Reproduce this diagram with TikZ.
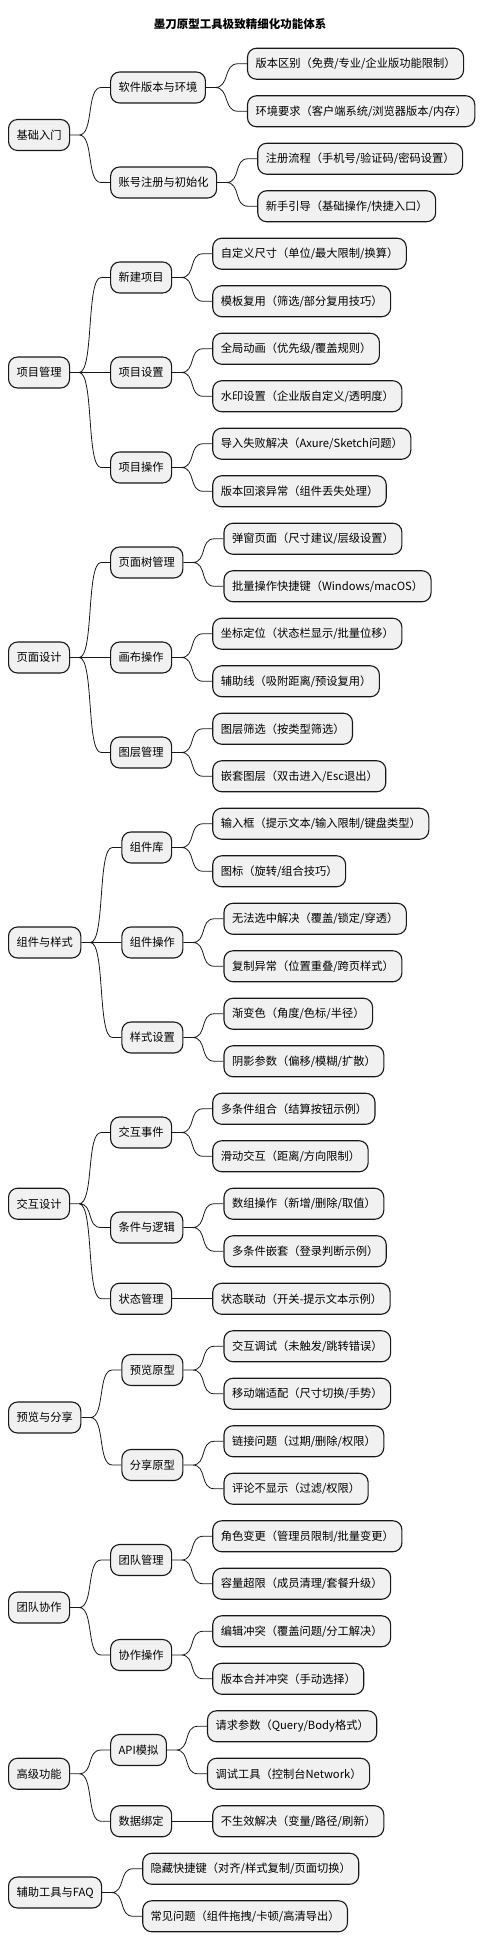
\documentclass[tikz,border=0pt]{standalone}
\usepackage{fontspec}
\setmainfont{Noto Sans CJK SC}
\usepackage{tikz}
\usetikzlibrary{calc}

\definecolor{boxfill}{HTML}{F1F1F1}
\definecolor{boxline}{HTML}{181818}

\begin{document}
\begin{tikzpicture}[x=1pt, y=-1pt,
    topic/.style={draw=boxline, line width=1.1pt, fill=boxfill, rounded corners=9pt,
        minimum height=31pt, inner xsep=8pt, inner ysep=0pt, anchor=west,
        font=\fontsize{11.25}{13}\selectfont},
    branch/.style={draw=boxline, line width=0.8pt,
        to path={(\tikztostart.east) -- ++(9,0)
            .. controls ($(\tikztostart.east)+(24,0)$) and ($(\tikztotarget.west)+(-24,0)$)
            .. ($(\tikztotarget.west)+(-9,0)$) -- (\tikztotarget.west)}}]

\useasboundingbox (0,0) rectangle (481,1948);

% Title
\node[font=\fontsize{11.5}{13}\selectfont\bfseries] (title) at (240,24) {墨刀原型工具极致精细化功能体系};

% Basics
\node[topic] (jcrm) at (8,135) {基础入门};
\node[topic] (rjbb) at ($(jcrm.east)+(40,-47.5)$) {软件版本与环境};
\node[topic] (bbqb) at ($(rjbb.east)+(41,-23.75)$) {版本区别（免费/专业/企业版功能限制）};
\node[topic] (hjyq) at ($(rjbb.east)+(41,23.75)$) {环境要求（客户端系统/浏览器版本/内存）};
\node[topic] (zhzc) at ($(jcrm.east)+(40,47.5)$) {账号注册与初始化};
\node[topic] (zclc) at ($(zhzc.east)+(40,-23.75)$) {注册流程（手机号/验证码/密码设置）};
\node[topic] (xsyd) at ($(zhzc.east)+(40,23.75)$) {新手引导（基础操作/快捷入口）};
\draw[branch] (jcrm) to (rjbb) (jcrm) to (zhzc);
\draw[branch] (rjbb) to (bbqb) (rjbb) to (hjyq);
\draw[branch] (zhzc) to (zclc) (zhzc) to (xsyd);

% Project management
\node[topic] (xmgl) at (8,372.5) {项目管理};
\node[topic] (xjxm) at ($(xmgl.east)+(40,-95)$) {新建项目};
\node[topic] (zdycc) at ($(xjxm.east)+(40,-23.75)$) {自定义尺寸（单位/最大限制/换算）};
\node[topic] (mbfy) at ($(xjxm.east)+(40,23.75)$) {模板复用（筛选/部分复用技巧）};
\node[topic] (xmsz) at ($(xmgl.east)+(40,0)$) {项目设置};
\node[topic] (qjdh) at ($(xmsz.east)+(40,-23.75)$) {全局动画（优先级/覆盖规则）};
\node[topic] (sysz) at ($(xmsz.east)+(40,23.75)$) {水印设置（企业版自定义/透明度）};
\node[topic] (xmcz) at ($(xmgl.east)+(40,95)$) {项目操作};
\node[topic] (drsb) at ($(xmcz.east)+(40,-23.75)$) {导入失败解决（Axure/Sketch问题）};
\node[topic] (bbhg) at ($(xmcz.east)+(40,23.75)$) {版本回滚异常（组件丢失处理）};
\draw[branch] (xmgl) to (xjxm) (xmgl) to (xmsz) (xmgl) to (xmcz);
\draw[branch] (xjxm) to (zdycc) (xjxm) to (mbfy);
\draw[branch] (xmsz) to (qjdh) (xmsz) to (sysz);
\draw[branch] (xmcz) to (drsb) (xmcz) to (bbhg);

% Page design
\node[topic] (ymsj) at (8,657.5) {页面设计};
\node[topic] (ymsgl) at ($(ymsj.east)+(40,-95)$) {页面树管理};
\node[topic] (tcym) at ($(ymsgl.east)+(40,-23.75)$) {弹窗页面（尺寸建议/层级设置）};
\node[topic] (plcz) at ($(ymsgl.east)+(40,23.75)$) {批量操作快捷键（Windows/macOS）};
\node[topic] (hbcz) at ($(ymsj.east)+(40,0)$) {画布操作};
\node[topic] (zbdw) at ($(hbcz.east)+(40,-23.75)$) {坐标定位（状态栏显示/批量位移）};
\node[topic] (fzx) at ($(hbcz.east)+(40,23.75)$) {辅助线（吸附距离/预设复用）};
\node[topic] (tcgl) at ($(ymsj.east)+(40,95)$) {图层管理};
\node[topic] (tcsx) at ($(tcgl.east)+(40,-23.75)$) {图层筛选（按类型筛选）};
\node[topic] (qttc) at ($(tcgl.east)+(40,23.75)$) {嵌套图层（双击进入/Esc退出）};
\draw[branch] (ymsj) to (ymsgl) (ymsj) to (hbcz) (ymsj) to (tcgl);
\draw[branch] (ymsgl) to (tcym) (ymsgl) to (plcz);
\draw[branch] (hbcz) to (zbdw) (hbcz) to (fzx);
\draw[branch] (tcgl) to (tcsx) (tcgl) to (qttc);

% Components and styles
\node[topic] (zjys) at (8,942.5) {组件与样式};
\node[topic] (zjk) at ($(zjys.east)+(40,-95)$) {组件库};
\node[topic] (srk) at ($(zjk.east)+(40,-23.75)$) {输入框（提示文本/输入限制/键盘类型）};
\node[topic] (tb) at ($(zjk.east)+(40,23.75)$) {图标（旋转/组合技巧）};
\node[topic] (zjcz) at ($(zjys.east)+(40,0)$) {组件操作};
\node[topic] (wfxz) at ($(zjcz.east)+(40,-23.75)$) {无法选中解决（覆盖/锁定/穿透）};
\node[topic] (fzyc) at ($(zjcz.east)+(40,23.75)$) {复制异常（位置重叠/跨页样式）};
\node[topic] (yssz) at ($(zjys.east)+(40,95)$) {样式设置};
\node[topic] (jbs) at ($(yssz.east)+(40,-23.75)$) {渐变色（角度/色标/半径）};
\node[topic] (yycs) at ($(yssz.east)+(40,23.75)$) {阴影参数（偏移/模糊/扩散）};
\draw[branch] (zjys) to (zjk) (zjys) to (zjcz) (zjys) to (yssz);
\draw[branch] (zjk) to (srk) (zjk) to (tb);
\draw[branch] (zjcz) to (wfxz) (zjcz) to (fzyc);
\draw[branch] (yssz) to (jbs) (yssz) to (yycs);

% Interaction design
\node[topic] (jhsj) at (8,1203.75) {交互设计};
\node[topic] (jhsjian) at ($(jhsj.east)+(40,-71.25)$) {交互事件};
\node[topic] (dtjzh) at ($(jhsjian.east)+(40,-23.75)$) {多条件组合（结算按钮示例）};
\node[topic] (hdjh) at ($(jhsjian.east)+(40,23.75)$) {滑动交互（距离/方向限制）};
\node[topic] (tjlj) at ($(jhsj.east)+(40,23.75)$) {条件与逻辑};
\node[topic] (szcz) at ($(tjlj.east)+(40,-23.75)$) {数组操作（新增/删除/取值）};
\node[topic] (dtjqt) at ($(tjlj.east)+(40,23.75)$) {多条件嵌套（登录判断示例）};
\node[topic] (ztgl) at ($(jhsj.east)+(40,95)$) {状态管理};
\node[topic] (ztld) at ($(ztgl.east)+(40,0)$) {状态联动（开关-提示文本示例）};
\draw[branch] (jhsj) to (jhsjian) (jhsj) to (tjlj) (jhsj) to (ztgl);
\draw[branch] (jhsjian) to (dtjzh) (jhsjian) to (hdjh);
\draw[branch] (tjlj) to (szcz) (tjlj) to (dtjqt);
\draw[branch] (ztgl) to (ztld);

% Preview and sharing
\node[topic] (ylfx) at (8,1417.5) {预览与分享};
\node[topic] (ylyx) at ($(ylfx.east)+(40,-47.5)$) {预览原型};
\node[topic] (jhts) at ($(ylyx.east)+(40,-23.75)$) {交互调试（未触发/跳转错误）};
\node[topic] (yddsp) at ($(ylyx.east)+(40,23.75)$) {移动端适配（尺寸切换/手势）};
\node[topic] (fxyx) at ($(ylfx.east)+(40,47.5)$) {分享原型};
\node[topic] (ljwt) at ($(fxyx.east)+(40,-23.75)$) {链接问题（过期/删除/权限）};
\node[topic] (plbx) at ($(fxyx.east)+(40,23.75)$) {评论不显示（过滤/权限）};
\draw[branch] (ylfx) to (ylyx) (ylfx) to (fxyx);
\draw[branch] (ylyx) to (jhts) (ylyx) to (yddsp);
\draw[branch] (fxyx) to (ljwt) (fxyx) to (plbx);

% Team work
\node[topic] (tdxz) at (8,1607.5) {团队协作};
\node[topic] (tdgl) at ($(tdxz.east)+(40,-47.5)$) {团队管理};
\node[topic] (jsbg) at ($(tdgl.east)+(40,-23.75)$) {角色变更（管理员限制/批量变更）};
\node[topic] (rlcx) at ($(tdgl.east)+(40,23.75)$) {容量超限（成员清理/套餐升级）};
\node[topic] (xzcz) at ($(tdxz.east)+(40,47.5)$) {协作操作};
\node[topic] (bjct) at ($(xzcz.east)+(40,-23.75)$) {编辑冲突（覆盖问题/分工解决）};
\node[topic] (bbhb) at ($(xzcz.east)+(40,23.75)$) {版本合并冲突（手动选择）};
\draw[branch] (tdxz) to (tdgl) (tdxz) to (xzcz);
\draw[branch] (tdgl) to (jsbg) (tdgl) to (rlcx);
\draw[branch] (xzcz) to (bjct) (xzcz) to (bbhb);

% Advanced
\node[topic] (gjgn) at (8,1773.75) {高级功能};
\node[topic] (apimn) at ($(gjgn.east)+(40,-23.75)$) {API模拟};
\node[topic] (qqcs) at ($(apimn.east)+(40,-23.75)$) {请求参数（Query/Body格式）};
\node[topic] (tsgj) at ($(apimn.east)+(40,23.75)$) {调试工具（控制台Network）};
\node[topic] (sjbd) at ($(gjgn.east)+(40,47.5)$) {数据绑定};
\node[topic] (bsxjj) at ($(sjbd.east)+(40,0)$) {不生效解决（变量/路径/刷新）};
\draw[branch] (gjgn) to (apimn) (gjgn) to (sjbd);
\draw[branch] (apimn) to (qqcs) (apimn) to (tsgj);
\draw[branch] (sjbd) to (bsxjj);

% Tools and FAQ
\node[topic] (fzgj) at (8,1892.5) {辅助工具与FAQ};
\node[topic] (yckj) at ($(fzgj.east)+(40,-23.75)$) {隐藏快捷键（对齐/样式复制/页面切换）};
\node[topic] (cjwt) at ($(fzgj.east)+(40,23.75)$) {常见问题（组件拖拽/卡顿/高清导出）};
\draw[branch] (fzgj) to (yckj) (fzgj) to (cjwt);

\end{tikzpicture}
\end{document}
